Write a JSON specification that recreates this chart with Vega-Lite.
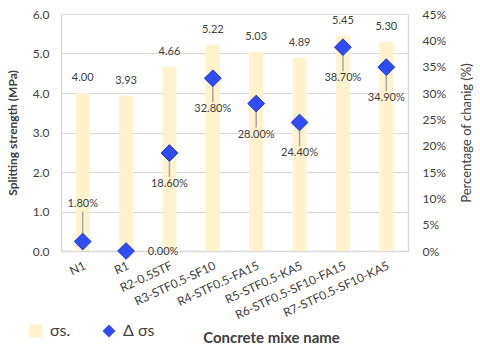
{
  "$schema": "https://vega.github.io/schema/vega-lite/v6.json",
  "width": 347,
  "height": 237,
  "autosize": {"type": "none"},
  "padding": {"left": 61, "top": 14, "right": 72, "bottom": 98},
  "background": "white",
  "config": {
    "font": "Lato",
    "view": {"stroke": null},
    "axis": {
      "labelColor": "#404040",
      "titleColor": "#404040",
      "domainColor": "#D9D9D9",
      "domainWidth": 1.5,
      "gridColor": "#D9D9D9",
      "gridWidth": 1.2,
      "ticks": false,
      "labelFontSize": 12
    }
  },
  "data": {
    "values": [
      {"mix": "N1", "strength": 4.00, "pct": 0.018},
      {"mix": "R1", "strength": 3.93, "pct": 0.0},
      {"mix": "R2-0.5STF", "strength": 4.66, "pct": 0.186},
      {"mix": "R3-STF0.5-SF10", "strength": 5.22, "pct": 0.328},
      {"mix": "R4-STF0.5-FA15", "strength": 5.03, "pct": 0.28},
      {"mix": "R5-STF0.5-KA5", "strength": 4.89, "pct": 0.244},
      {"mix": "R6-STF0.5-SF10-FA15", "strength": 5.45, "pct": 0.387},
      {"mix": "R7-STF0.5-SF10-KA5", "strength": 5.30, "pct": 0.349}
    ]
  },
  "encoding": {
    "x": {
      "field": "mix",
      "type": "nominal",
      "sort": null,
      "scale": {"paddingInner": 0.68, "paddingOuter": 0.34},
      "axis": {
        "labelAngle": -25,
        "labelFontSize": 12,
        "labelPadding": 9,
        "title": "Concrete mixe name",
        "titleFontSize": 15,
        "titleFontWeight": "bold",
        "titleX": 210,
        "titleY": 86,
        "titleBaseline": "middle"
      }
    }
  },
  "layer": [
    {
      "encoding": {
        "y": {
          "field": "strength",
          "type": "quantitative",
          "scale": {"domain": [0, 6]},
          "axis": {
            "orient": "left",
            "values": [0, 1, 2, 3, 4, 5, 6],
            "format": ".1f",
            "grid": true,
            "labelPadding": 12,
            "title": "Splitting strength (MPa)",
            "titleFontSize": 12,
            "titleFontWeight": "bold",
            "titlePadding": 13
          }
        }
      },
      "layer": [
        {
          "mark": {"type": "bar"},
          "encoding": {
            "color": {
              "datum": "σs.",
              "scale": {"domain": ["σs.", "Δ σs"], "range": ["#FFF2CC", "#2F4CF5"]},
              "legend": {
                "orient": "none",
                "legendX": -33,
                "legendY": 309,
                "direction": "horizontal",
                "title": null,
                "labelFontSize": 16,
                "labelColor": "#404040",
                "symbolSize": 170,
                "symbolOpacity": 1,
                "columnPadding": 30,
                "labelOffset": 6,
                "encode": {
                  "symbols": {
                    "update": {
                      "shape": {"signal": "datum.value === 'σs.' ? 'square' : 'diamond'"},
                      "strokeWidth": {"value": 0}
                    }
                  }
                }
              }
            }
          }
        },
        {
          "mark": {"type": "text", "dy": -15, "fontSize": 11, "color": "#404040"},
          "encoding": {"text": {"field": "strength", "type": "quantitative", "format": ".2f"}}
        }
      ]
    },
    {
      "encoding": {
        "y": {
          "field": "pct",
          "type": "quantitative",
          "scale": {"domain": [0, 0.45]},
          "axis": {
            "orient": "right",
            "values": [0, 0.05, 0.1, 0.15, 0.2, 0.25, 0.3, 0.35, 0.4, 0.45],
            "format": ".0%",
            "grid": false,
            "labelPadding": 14,
            "title": "Percentage of chanig  (%)",
            "titleFontSize": 13,
            "titleFontWeight": "normal",
            "titleAngle": -90,
            "titlePadding": 28
          }
        }
      },
      "layer": [
        {
          "transform": [{"filter": "datum.mix !== 'N1' && datum.mix !== 'R1'"}],
          "mark": {"type": "rule", "color": "#A6A6A6", "strokeWidth": 1.5, "y2Offset": 24},
          "encoding": {"y2": {"field": "pct"}}
        },
        {
          "transform": [{"filter": "datum.mix === 'N1'"}],
          "mark": {"type": "rule", "color": "#A6A6A6", "strokeWidth": 1.5, "y2Offset": -30},
          "encoding": {"y2": {"field": "pct"}}
        },
        {
          "mark": {"type": "point", "shape": "diamond", "filled": true, "size": 280, "opacity": 1, "stroke": "#1C37C8", "strokeWidth": 1},
          "encoding": {"color": {"datum": "Δ σs"}}
        },
        {
          "transform": [{"filter": "datum.mix !== 'N1' && datum.mix !== 'R1'"}],
          "mark": {"type": "text", "dy": 31, "fontSize": 11, "color": "#404040"},
          "encoding": {"text": {"field": "pct", "type": "quantitative", "format": ".2%"}}
        },
        {
          "transform": [{"filter": "datum.mix === 'N1'"}],
          "mark": {"type": "text", "dy": -38, "fontSize": 11, "color": "#404040"},
          "encoding": {"text": {"field": "pct", "type": "quantitative", "format": ".2%"}}
        },
        {
          "transform": [{"filter": "datum.mix === 'R1'"}],
          "mark": {"type": "text", "dx": 37, "dy": 1, "fontSize": 11, "color": "#404040"},
          "encoding": {"text": {"field": "pct", "type": "quantitative", "format": ".2%"}}
        }
      ]
    }
  ],
  "resolve": {"scale": {"y": "independent"}}
}
